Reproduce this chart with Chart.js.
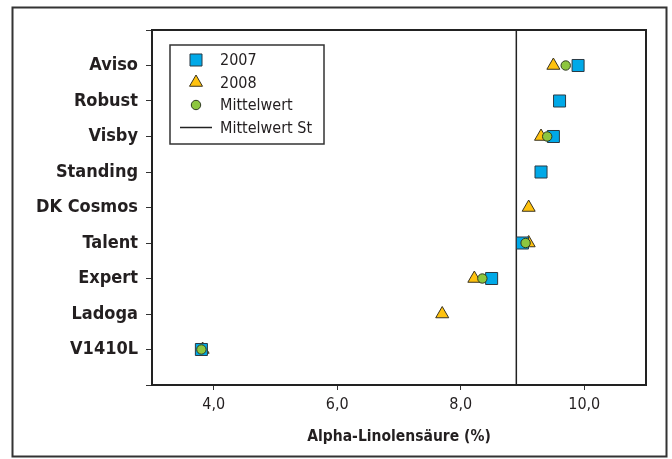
<!DOCTYPE html>
<html>
<head>
<meta charset="utf-8">
<script src="https://cdn.jsdelivr.net/npm/chart.js@4/dist/chart.umd.min.js"></script>
<style>
  body { margin: 0; background: #fff; }
  #wrap { width: 672px; height: 459px; }
</style>
</head>
<body>
<div id="wrap"><canvas id="chart" width="672" height="459"></canvas></div>
<script>
// sorten, von oben nach unten
const categories = ['Aviso', 'Robust', 'Visby', 'Standing', 'DK Cosmos', 'Talent', 'Expert', 'Ladoga', 'V1410L'];
const values2007 = [9.9, 9.6, 9.5, 9.3, null, 9.0, 8.5, null, 3.8];
const values2008 = [9.5, null, 9.3, null, 9.1, 9.1, 8.22, 7.7, 3.82];
const meanValues = [9.7, null, 9.4, null, null, 9.05, 8.35, null, 3.8];
const meanStandard = 8.9;
const xTicks = [4, 6, 8, 10];
const seriesLabels = ['2007', '2008', 'Mittelwert', 'Mittelwert St'];

const FONT = "'Liberation Sans Narrow', 'DejaVu Sans Condensed', sans-serif";

function toPoints(values) {
    const pts = [];
    values.forEach((v, i) => {
        if (v !== null) pts.push({ x: v, y: categories.length - i });
    });
    return pts;
}

const framePlugin = {
    id: 'frame',
    beforeDraw(chart) {
        const ctx = chart.ctx;
        ctx.save();
        ctx.fillStyle = '#fff';
        ctx.fillRect(0, 0, chart.width, chart.height);
        ctx.strokeStyle = '#333';
        ctx.lineWidth = 2;
        ctx.strokeRect(12.5, 7.5, 654, 449);
        ctx.restore();
    },
    afterDraw(chart) {
        const a = chart.chartArea;
        const ctx = chart.ctx;
        ctx.save();
        ctx.strokeStyle = '#222';
        ctx.lineWidth = 2;
        ctx.strokeRect(a.left, a.top, a.right - a.left, a.bottom - a.top);

        // legende im plotbereich
        const bx = a.left + 18, by = a.top + 15;
        ctx.lineWidth = 1.5;
        ctx.strokeStyle = '#333';
        ctx.fillStyle = '#fff';
        ctx.fillRect(bx, by, 154, 99);
        ctx.strokeRect(bx, by, 154, 99);
        ctx.font = '16px ' + FONT;
        ctx.textBaseline = 'middle';
        chart.data.datasets.forEach((ds, i) => {
            const y = by + 15 + i * 22.5;
            const mx = bx + 26;
            if (ds.pointRadius > 0) {
                ctx.fillStyle = ds.backgroundColor;
                ctx.strokeStyle = ds.borderColor;
                ctx.lineWidth = 1;
                Chart.helpers.drawPoint(ctx, {
                    pointStyle: ds.pointStyle, radius: ds.pointRadius, rotation: 0, borderWidth: 1
                }, mx, y);
            } else {
                ctx.strokeStyle = ds.borderColor;
                ctx.lineWidth = 1.5;
                ctx.beginPath();
                ctx.moveTo(mx - 16, y);
                ctx.lineTo(mx + 16, y);
                ctx.stroke();
            }
            ctx.fillStyle = '#231f20';
            ctx.fillText(ds.label, bx + 50, y + 1);
        });
        ctx.restore();
    }
};

new Chart(document.getElementById('chart').getContext('2d'), {
    type: 'scatter',
    data: {
        datasets: [{
            label: seriesLabels[0],
            data: toPoints(values2007),
            pointStyle: 'rect',
            pointRadius: 8.5,
            backgroundColor: '#00a9e8',
            borderColor: '#2b3a44',
            borderWidth: 1,
            order: 2
        }, {
            label: seriesLabels[1],
            data: toPoints(values2008),
            pointStyle: 'triangle',
            pointRadius: 7.5,
            backgroundColor: '#ffc20e',
            borderColor: '#3a3320',
            borderWidth: 1,
            order: 3
        }, {
            label: seriesLabels[2],
            data: toPoints(meanValues),
            pointStyle: 'circle',
            pointRadius: 4.7,
            backgroundColor: '#8dc63f',
            borderColor: '#2f3a22',
            borderWidth: 1,
            order: 1
        }, {
            label: seriesLabels[3],
            data: [{ x: meanStandard, y: 0 }, { x: meanStandard, y: 10 }],
            showLine: true,
            pointRadius: 0,
            borderColor: '#222',
            borderWidth: 1.5,
            order: 4
        }]
    },
    options: {
        responsive: false,
        animation: false,
        layout: { padding: { left: 0, top: 30, right: 26, bottom: 0 } },
        plugins: {
            legend: { display: false },
            tooltip: { enabled: false }
        },
        scales: {
            x: {
                type: 'linear',
                min: 3,
                max: 11,
                afterBuildTicks: s => { s.ticks = xTicks.map(v => ({ value: v })); },
                afterFit: s => { s.height = 74; },
                grid: { drawOnChartArea: false, tickLength: 5, color: '#333', tickWidth: 1 },
                border: { color: '#222', width: 2 },
                ticks: {
                    padding: 5,
                    color: '#231f20',
                    font: { family: FONT, size: 16 },
                    callback: v => v.toFixed(1).replace('.', ',')
                },
                title: {
                    display: true,
                    text: 'Alpha-Linolensäure (%)',
                    color: '#231f20',
                    font: { family: FONT, size: 15.5, weight: 'bold' },
                    padding: { top: 0, bottom: 13 }
                }
            },
            y: {
                type: 'linear',
                min: 0,
                max: 10,
                afterBuildTicks: s => {
                    const t = [];
                    for (let i = 0; i <= 10; i++) t.push({ value: i });
                    s.ticks = t;
                },
                afterFit: s => { s.width = 152; },
                grid: { drawOnChartArea: false, tickLength: 6, color: '#333', tickWidth: 1 },
                border: { color: '#222', width: 2 },
                ticks: {
                    padding: 8,
                    color: '#231f20',
                    font: { family: FONT, size: 18, weight: 'bold' },
                    callback: v => (v >= 1 && v <= categories.length) ? categories[categories.length - v] : ''
                }
            }
        }
    },
    plugins: [framePlugin]
});
</script>
</body>
</html>
